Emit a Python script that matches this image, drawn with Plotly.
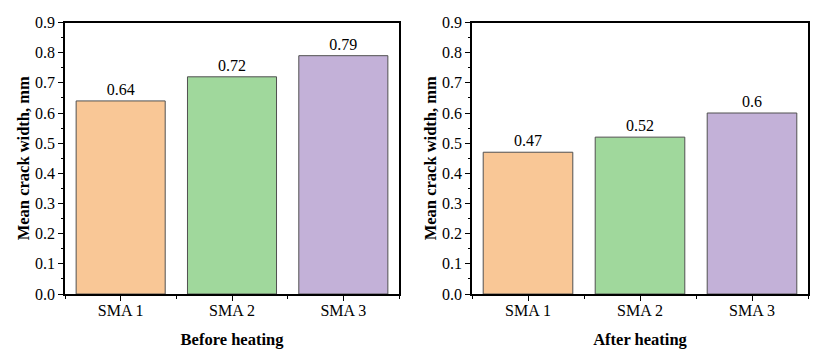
import plotly.graph_objects as go

categories = ["SMA 1", "SMA 2", "SMA 3"]
before_heating = [0.64, 0.72, 0.79]
after_heating = [0.47, 0.52, 0.6]
bar_colors = ["#F9C796", "#A0D89C", "#C3B1D8"]

FONT = "Liberation Serif, Times New Roman, serif"
pos = list(range(len(categories)))

fig = go.Figure()

for i, (vals, title) in enumerate([(before_heating, "Before heating"),
                                   (after_heating, "After heating")]):
    xa = "x" if i == 0 else "x2"
    ya = "y" if i == 0 else "y2"
    fig.add_trace(go.Bar(
        x=pos, y=vals, xaxis=xa, yaxis=ya,
        marker=dict(color=bar_colors, line=dict(color="#505050", width=1)),
        width=0.8,
        text=[str(v) for v in vals], textposition="outside",
        textfont=dict(family=FONT, size=16, color="black"),
        cliponaxis=False, showlegend=False,
    ))

axis_common_x = dict(
    range=[-0.5, 2.5], tickvals=pos, ticktext=categories, automargin=False,
    ticks="outside", ticklen=5, tickwidth=1, tickcolor="black",
    showline=True, linecolor="black", linewidth=1.5, mirror=True,
    showgrid=False, zeroline=False, ticklabelstandoff=-4,
    tickfont=dict(family=FONT, size=16, color="black"),
    minor=dict(ticks="outside", ticklen=3, tickcolor="black", tick0=0.5, dtick=1, showgrid=False),
)
axis_common_y = dict(
    range=[0, 0.9], dtick=0.1, tickformat=".1f", automargin=False,
    ticks="outside", ticklen=5, tickwidth=1, tickcolor="black",
    showline=True, linecolor="black", linewidth=1.5, mirror=True,
    showgrid=False, zeroline=False,
    tickfont=dict(family=FONT, size=16, color="black"),
    minor=dict(ticks="outside", ticklen=2, tickcolor="black", dtick=0.05, showgrid=False),
    title=dict(text="<b>Mean crack width, mm</b>", standoff=1,
               font=dict(family=FONT, size=16.5, color="black")),
)

fig.update_layout(
    width=823, height=359,
    margin=dict(l=0, r=0, t=0, b=0),
    paper_bgcolor="white", plot_bgcolor="white",
    xaxis=dict(axis_common_x, domain=[65 / 823, 399 / 823], anchor="y",
               title=dict(text="<b>Before heating</b>", standoff=15,
                          font=dict(family=FONT, size=16.5, color="black"))),
    yaxis=dict(axis_common_y, domain=[1 - 294 / 359, 1 - 22.5 / 359], anchor="x"),
    xaxis2=dict(axis_common_x, domain=[472 / 823, 808 / 823], anchor="y2",
                title=dict(text="<b>After heating</b>", standoff=15,
                           font=dict(family=FONT, size=16.5, color="black"))),
    yaxis2=dict(axis_common_y, domain=[1 - 294 / 359, 1 - 22.5 / 359], anchor="x2"),
)

# drop the default body margin so the figure sits at the page corner
fig.write_html("out.html", config={"displayModeBar": False},
               post_script="document.body.style.margin='0';")
